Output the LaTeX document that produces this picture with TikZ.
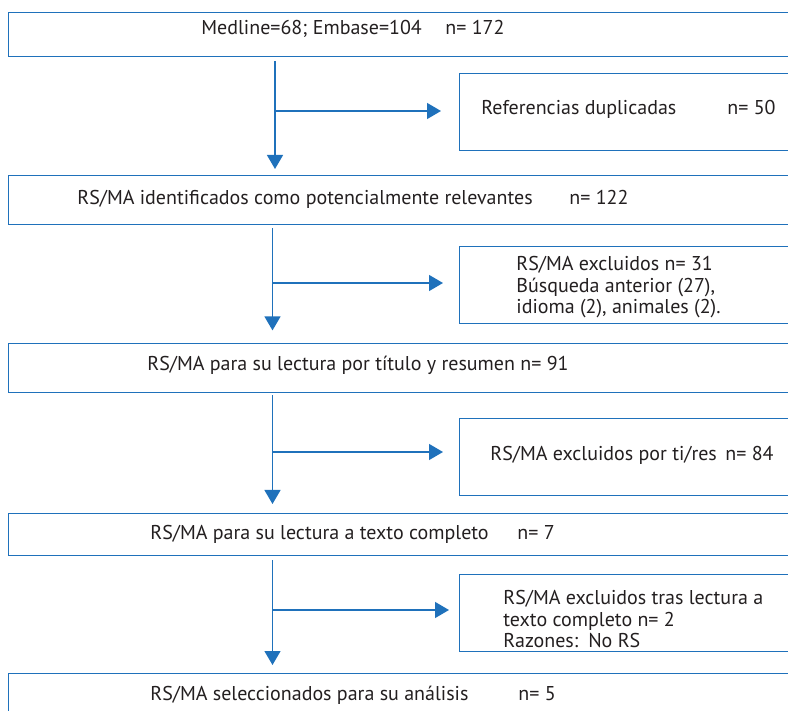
\documentclass[tikz,border=0pt]{standalone}
\usepackage{fontspec}
\setmainfont{PT Sans}
\usetikzlibrary{arrows.meta}
\definecolor{flowblue}{RGB}{31,113,187}
\definecolor{inkgray}{RGB}{35,31,32}

\begin{document}
\begin{tikzpicture}[x=0.5pt, y=-0.5pt,
    mainbox/.style={draw=flowblue, line width=0.7pt, rectangle, anchor=north west, minimum width=450pt, inner sep=0pt},
    sidebox/.style={draw=flowblue, line width=0.7pt, rectangle, anchor=north west, minimum width=250pt, minimum height=38.5pt, inner sep=0pt},
    txt/.style={anchor=base west, inner sep=0pt, text=inkgray, font=\fontsize{10pt}{10.8pt}\selectfont},
    flow/.style={draw=flowblue, line width=0.7pt, -{Triangle[length=7pt,width=8pt]}}]
    \useasboundingbox (0,0) rectangle (788,711);
    \clip (0,0) rectangle (788,711);

    % main column
    \node[mainbox, minimum height=22pt] (b1) at (8,12) {};
    \node[mainbox, minimum height=24.5pt] (b2) at (8,175) {};
    \node[mainbox, minimum height=24.5pt] (b3) at (8,343) {};
    \node[mainbox, minimum height=21pt] (b4) at (8,513) {};
    \node[mainbox, minimum height=25pt] (b5) at (8,673) {};

    % exclusions
    \node[sidebox] (d1) at (459,73) {};
    \node[sidebox] (d2) at (459,246) {};
    \node[sidebox] (d3) at (459,418) {};
    \node[sidebox] (d4) at (459,574) {};

    % texts
    \node[txt] (t1) at (201,35) {Medline=68; Embase=104};
    \node[txt] (n1) at (445,35) {n= 172};
    \node[txt] (t2) at (77,205) {RS/MA identificados como potencialmente relevantes};
    \node[txt] (n2) at (569,205) {n= 122};
    \node[txt] (t3) at (147,371) {RS/MA para su lectura por título y resumen n= 91};
    \node[txt] (t4) at (150,539) {RS/MA para su lectura a texto completo};
    \node[txt] (n4) at (517,539) {n= 7};
    \node[txt] (t5) at (150,700) {RS/MA seleccionados para su análisis};
    \node[txt] (n5) at (518,700) {n= 5};
    \node[txt] (e1) at (481,115) {Referencias duplicadas};
    \node[txt] (m1) at (727,115) {n= 50};
    \node[txt, anchor=north west, align=left] (e2) at (516,256) {RS/MA excluidos n= 31\\Búsqueda anterior (27),\\idioma (2), animales (2).};
    \node[txt] (e3) at (490,461) {RS/MA excluidos por ti/res};
    \node[txt] (m3) at (725,461) {n= 84};
    \node[txt, anchor=north west, align=left] (e4) at (503,590) {RS/MA excluidos tras lectura a\\texto completo n= 2\\Razones:\enspace No RS};

    % connectors
    \coordinate (j1) at (275,111);
    \coordinate (j2) at (272.5,283);
    \coordinate (j3) at (272.5,452);
    \coordinate (j4) at (272.5,610);
    \draw[flow, shorten <=2pt, shorten >=3pt] (b1.south -| j1) -- (b2.north -| j1);
    \draw[flow, shorten <=1.5pt, shorten >=6.3pt] (b2.south -| j2) -- (b3.north -| j2);
    \draw[flow, shorten <=1pt, shorten >=4.5pt] (b3.south -| j3) -- (b4.north -| j3);
    \draw[flow, shorten <=2pt, shorten >=4pt] (b4.south -| j4) -- (b5.north -| j4);
    \draw[flow, shorten >=9pt] (j1) -- (d1.west |- j1);
    \draw[flow, shorten >=8pt] (j2) -- (d2.west |- j2);
    \draw[flow, shorten >=8pt] (j3) -- (d3.west |- j3);
    \draw[flow, shorten >=5pt] (j4) -- (d4.west |- j4);
\end{tikzpicture}
\end{document}
